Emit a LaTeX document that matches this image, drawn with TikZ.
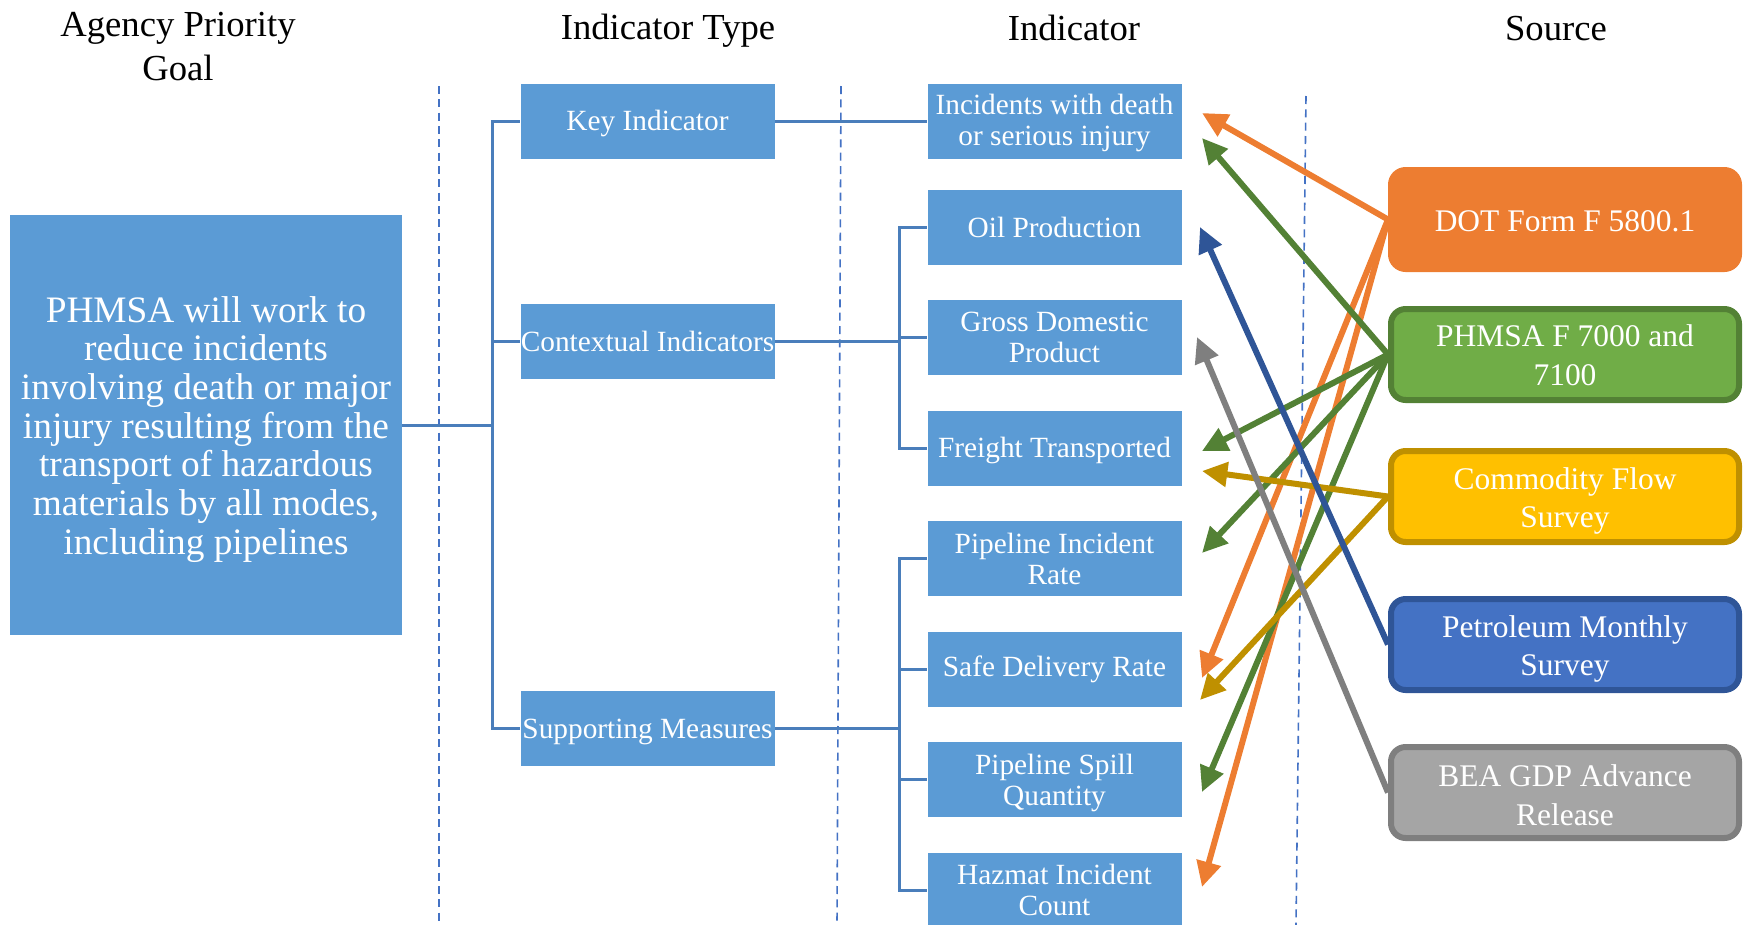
\documentclass[tikz,border=0pt]{standalone}
\usepackage{fontspec}
\setmainfont{Liberation Serif}
\usetikzlibrary{arrows.meta}
\definecolor{boxblue}{HTML}{5B9BD5}
\definecolor{connblue}{HTML}{4A7EBB}
\definecolor{dashblue}{HTML}{4472C4}
\definecolor{orangeA}{HTML}{ED7D31}
\definecolor{greenF}{HTML}{70AD47}
\definecolor{greenD}{HTML}{538135}
\definecolor{goldF}{HTML}{FFC000}
\definecolor{goldD}{HTML}{BF9000}
\definecolor{navyF}{HTML}{4472C4}
\definecolor{navyD}{HTML}{2F5597}
\definecolor{grayF}{HTML}{A5A5A5}
\definecolor{grayD}{HTML}{7F7F7F}
\newcommand\topstrut[1]{\rule{0pt}{#1}}
\tikzset{
  ibox/.style={fill=boxblue, draw=white, line width=0.5pt, text=white,
    minimum width=191.25pt, minimum height=57pt, inner sep=0pt, align=center,
    font=\fontsize{22}{23.3}\selectfont},
  srcbox/.style={rounded corners=11pt, line width=4.5pt, text=white,
    minimum width=261pt, minimum height=68.25pt, inner sep=0pt, align=center,
    font=\fontsize{23.6}{28.8}\selectfont},
  hdr/.style={font=\fontsize{27.5}{33}\selectfont, align=center, inner sep=0pt},
  conn/.style={draw=connblue, line width=2.25pt},
  dashl/.style={draw=dashblue, line width=1.2pt, dash pattern=on 6pt off 4pt},
  arr/.style={line width=4.5pt, -{Triangle[length=19pt,width=18pt]}}
}
\begin{document}
\begin{tikzpicture}[x=0.75pt,y=-0.75pt]
\useasboundingbox (0,0) rectangle (1743,925);
% headers
\node[hdr] (h1) at (178,47) {Agency Priority\\Goal};
\node[hdr] (h2) at (668,31) {Indicator Type};
\node[hdr] (h3) at (1074,28) {Indicator};
\node[hdr] (h4) at (1556,29) {Source};
% dashed separators
\draw[dashl] (439,86) -- (439,925);
\draw[dashl] (841,86) -- (837,925);
\draw[dashl] (1306,96) -- (1296,925);
% goal
\node[fill=boxblue, text=white, minimum width=294pt, minimum height=315pt, inner sep=0pt,
  align=center, font=\fontsize{28}{29}\selectfont] (goal) at (206,425)
  {\topstrut{25.9pt}PHMSA will work to\\reduce incidents\\involving death or major\\injury resulting from the\\transport of hazardous\\materials by all modes,\\including pipelines};
% indicator types
\node[ibox] (key) at (647.5,121) {\topstrut{18.4pt}Key Indicator};
\node[ibox] (ctx) at (647.5,341) {Contextual Indicators};
\node[ibox] (sup) at (647.5,728) {\topstrut{20pt}Supporting Measures};
% indicators
\node[ibox] (inc) at (1054.5,121) {\topstrut{18.8pt}Incidents with death\\or serious injury};
\node[ibox] (oil) at (1054.5,227) {Oil Production};
\node[ibox] (gdp) at (1054.5,337) {Gross Domestic\\Product};
\node[ibox] (fre) at (1054.5,448) {\topstrut{18.4pt}Freight Transported};
\node[ibox] (pir) at (1054.5,558.5) {Pipeline Incident\\Rate};
\node[ibox] (sdr) at (1054.5,669) {\topstrut{16.5pt}Safe Delivery Rate};
\node[ibox] (psq) at (1054.5,779.5) {\topstrut{20.5pt}Pipeline Spill\\Quantity};
\node[ibox] (hic) at (1054.5,890) {Hazmat Incident\\Count};
% tree connectors
\coordinate (tx) at (492,0);
\coordinate (ix) at (899,0);
\draw[conn] (goal.east) -- (goal.east -| tx);
\draw[conn] (key.west) -- (key.west -| tx) -- (sup.west -| tx) -- (sup.west);
\draw[conn] (ctx.west) -- (ctx.west -| tx);
\draw[conn] (key.east) -- (inc.west);
\draw[conn] (ctx.east) -- (ctx.east -| ix);
\draw[conn] (oil.west) -- (oil.west -| ix) -- (fre.west -| ix) -- (fre.west);
\draw[conn] (gdp.west) -- (gdp.west -| ix);
\draw[conn] (sup.east) -- (sup.east -| ix);
\draw[conn] (pir.west) -- (pir.west -| ix) -- (hic.west -| ix) -- (hic.west);
\draw[conn] (sdr.west) -- (sdr.west -| ix);
\draw[conn] (psq.west) -- (psq.west -| ix);
% source positions
\coordinate (dotc) at (1565,219.5);
\coordinate (phc) at (1565,354.5);
\coordinate (cfc) at (1565,496.5);
\coordinate (pmc) at (1565,644.5);
\coordinate (bec) at (1565,792.5);
% arrow tips
\coordinate (t1) at (1202,113);
\coordinate (t2) at (1202,138);
\coordinate (t3) at (1200,227);
\coordinate (t4) at (1197,337);
\coordinate (t5) at (1202,451);
\coordinate (t6) at (1202,471);
\coordinate (t7) at (1202,553);
\coordinate (t8) at (1202,678);
\coordinate (t9) at (1200,700);
\coordinate (t10) at (1202,792);
\coordinate (t11) at (1202,887);
% sources
\node[srcbox, fill=orangeA, draw=orangeA, minimum height=74.25pt] (dot) at (dotc) {\topstrut{17.6pt}DOT Form F 5800.1};
\node[srcbox, fill=greenF, draw=greenD] (phm) at (phc) {\topstrut{17.6pt}PHMSA F 7000 and\\7100};
\node[srcbox, fill=goldF, draw=goldD] (cfs) at (cfc) {\topstrut{23.1pt}Commodity Flow\\Survey};
\node[srcbox, fill=navyF, draw=navyD] (pms) at (pmc) {\topstrut{23.1pt}Petroleum Monthly\\Survey};
\node[srcbox, fill=grayF, draw=grayD] (bea) at (bec) {\topstrut{20.6pt}BEA GDP Advance\\Release};
% arrows
\draw[arr, orangeA] (dot.west) -- (t1);
\draw[arr, orangeA] (dot.west) -- (t8);
\draw[arr, orangeA] (dot.west) -- (t11);
\draw[arr, greenD] (phm.west) -- (t2);
\draw[arr, greenD] (phm.west) -- (t5);
\draw[arr, greenD] (phm.west) -- (t7);
\draw[arr, greenD] (phm.west) -- (t10);
\draw[arr, goldD] (cfs.west) -- (t6);
\draw[arr, goldD] (cfs.west) -- (t9);
\draw[arr, navyD] (pms.west) -- (t3);
\draw[arr, grayD] (bea.west) -- (t4);
\end{tikzpicture}
\end{document}
